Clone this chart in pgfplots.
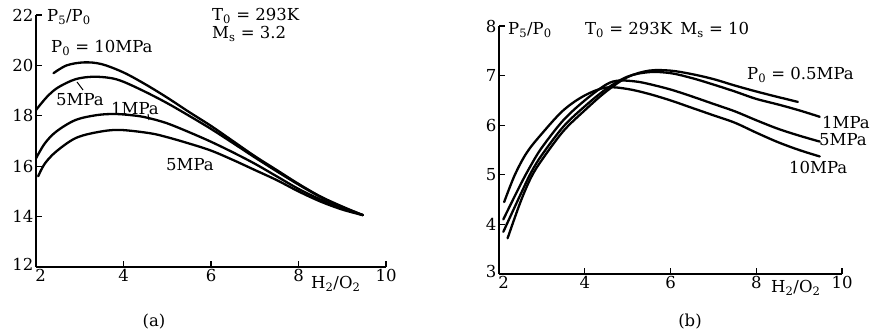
\documentclass[border=0pt]{standalone}
\usepackage{fontspec}
\setmainfont{DejaVu Serif}
\usepackage{pgfplots}
\pgfplotsset{compat=1.18}
\begin{document}
\begin{tikzpicture}[x=1pt,y=1pt,every node/.style={font=\fontsize{16.5}{19}\selectfont}]
\path[use as bounding box] (0,0) rectangle (877,335);
\pgfplotsset{
  myax/.style={scale only axis, axis lines=left, clip=false,
    axis line style={line width=1.3pt,-},
    every tick/.style={black,line width=1.3pt},
    tick align=inside, major tick length=6pt,
    xmin=2,xmax=10, xtick={2,4,6,8,10},
    /pgf/number format/assume math mode=true,
    ticklabel style={font=\fontsize{16.5}{19}\selectfont},
    xticklabel style={inner sep=2pt},
    yticklabel style={inner sep=2.5pt},
    xticklabel={\ifdim\tick pt<2.5pt\hspace*{9pt}\fi\pgfmathprintnumber{\tick}},
    cycle list={{black,no markers}},
    every axis plot post/.append style={black,line width=2.3pt,smooth,tension=0.55,line cap=round},
  },
  ylow/.style={yticklabel={\ifdim\tick pt<#1pt\raisebox{5pt}{\pgfmathprintnumber{\tick}}\else\pgfmathprintnumber{\tick}\fi}}
}
% ---------------- panel (a)
\begin{axis}[myax, ylow=12.5, at={(36pt,68pt)}, anchor=south west,
  width=350pt, height=252pt, ymin=12, ymax=22, ytick={12,14,...,22}]
\addplot coordinates {(2.4,19.69)(2.7,20.0)(3.1,20.12)(3.5,20.05)(4.0,19.72)(4.5,19.25)(5.0,18.72)(5.5,18.15)(6.0,17.6)(6.5,17.0)(7.0,16.4)(7.5,15.85)(8.0,15.3)(8.5,14.8)(9.0,14.4)(9.47,14.06)};
\addplot coordinates {(2.0,18.23)(2.25,18.75)(2.5,19.12)(2.9,19.45)(3.3,19.55)(3.7,19.5)(4.0,19.35)(4.5,18.95)(5.0,18.5)(5.5,18.0)(6.0,17.48)(6.5,16.92)(7.0,16.35)(7.5,15.8)(8.0,15.27)(8.5,14.78)(9.0,14.38)(9.47,14.06)};
\addplot coordinates {(2.0,16.31)(2.2,16.9)(2.46,17.37)(2.9,17.83)(3.4,18.03)(3.83,18.07)(4.3,18.0)(4.6,17.9)(5.0,17.7)(5.5,17.35)(6.0,16.97)(6.5,16.55)(7.0,16.1)(7.5,15.6)(8.0,15.1)(8.5,14.68)(9.0,14.33)(9.47,14.06)};
\addplot coordinates {(2.05,15.6)(2.2,16.1)(2.46,16.58)(2.9,17.11)(3.4,17.35)(3.9,17.44)(4.6,17.31)(5.0,17.15)(5.5,16.9)(6.0,16.62)(6.5,16.25)(7.0,15.85)(7.5,15.45)(8.0,15.0)(8.5,14.6)(9.0,14.28)(9.47,14.06)};
\end{axis}
% ---------------- panel (b)
\begin{axis}[myax, ylow=3.5, at={(499pt,61pt)}, anchor=south west,
  width=343pt, height=248pt, ymin=3, ymax=8, ytick={3,4,...,8}]
\addplot coordinates {(2.2,3.72)(2.5,4.45)(2.75,4.95)(3.0,5.3)(3.5,5.88)(4.0,6.3)(4.5,6.68)(5.0,6.97)(5.5,7.1)(6.0,7.1)(6.5,7.03)(7.0,6.93)(7.5,6.8)(8.0,6.68)(8.5,6.57)(8.97,6.47)};
\addplot coordinates {(2.1,3.85)(2.5,4.6)(2.75,5.05)(3.0,5.4)(3.5,5.97)(4.0,6.38)(4.5,6.73)(5.0,6.98)(5.5,7.07)(6.0,7.05)(6.5,6.95)(7.0,6.82)(7.5,6.68)(8.0,6.53)(8.5,6.42)(9.0,6.3)(9.48,6.17)};
\addplot coordinates {(2.1,4.1)(2.5,4.8)(2.75,5.2)(3.0,5.55)(3.5,6.1)(4.0,6.5)(4.5,6.82)(4.8,6.9)(5.2,6.88)(5.5,6.83)(6.0,6.72)(6.5,6.58)(7.0,6.43)(7.5,6.28)(8.0,6.1)(8.5,5.93)(9.0,5.79)(9.48,5.67)};
\addplot coordinates {(2.12,4.45)(2.37,5.0)(2.65,5.45)(3.0,5.83)(3.5,6.3)(4.0,6.6)(4.5,6.76)(5.0,6.73)(5.5,6.63)(6.0,6.5)(6.5,6.35)(7.0,6.2)(7.5,6.05)(8.0,5.85)(8.5,5.66)(9.0,5.5)(9.48,5.37)};
\end{axis}
% ---------------- texts (a)
\begin{scope}[every node/.append style={inner sep=1pt}]
\node[anchor=west] at (46,318) {P\textsubscript{5}/P\textsubscript{0}};
\node[anchor=west] at (211,319) {T\textsubscript{0} = 293K};
\node[anchor=west] at (211,301) {M\textsubscript{s} = 3.2};
\node[anchor=west] at (50,287) {P\textsubscript{0} = 10MPa};
\node[anchor=west] at (55,235) {5MPa};
\node[anchor=west] at (110,227) {1MPa};
\node[anchor=west] at (165,170) {5MPa};
\node[anchor=west] at (310,51) {H\textsubscript{2}/O\textsubscript{2}};
\node at (154,13) {(a)};
% ---------------- texts (b)
\node[anchor=west] at (507,305) {P\textsubscript{5}/P\textsubscript{0}};
\node[anchor=west] at (584,305) {T\textsubscript{0} = 293K\hspace{0.5em}M\textsubscript{s} = 10};
\node[anchor=west] at (746,260) {P\textsubscript{0} = 0.5MPa};
\node[anchor=west] at (821,213) {1MPa};
\node[anchor=west] at (818,195) {5MPa};
\node[anchor=west] at (788,168) {10MPa};
\node[anchor=west] at (770,47) {H\textsubscript{2}/O\textsubscript{2}};
\node at (690,13) {(b)};
\end{scope}
\draw[line width=1pt] (77,253) -- (83,245);
\draw[line width=1pt] (148,221) -- (149,215);
\end{tikzpicture}
\end{document}
